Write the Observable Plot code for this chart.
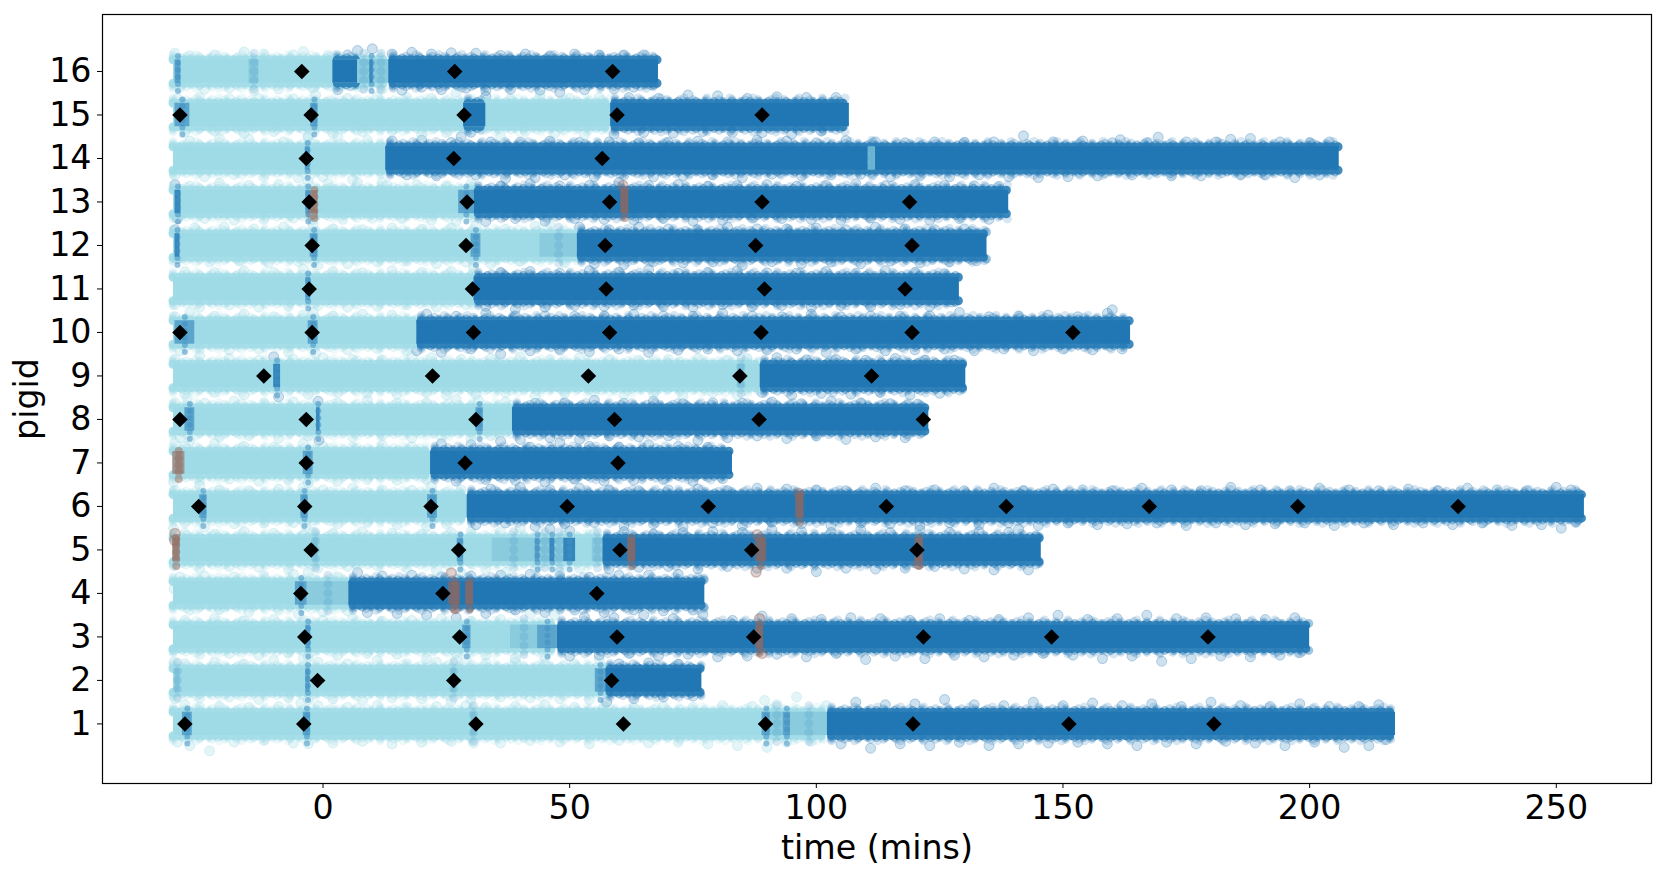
<!DOCTYPE html>
<html>
<head>
<meta charset="utf-8">
<script src="https://cdn.jsdelivr.net/npm/d3@7"></script>
<script src="https://cdn.jsdelivr.net/npm/@observablehq/plot@0.6"></script>
<style>
  body { margin: 0; background: white; }
</style>
</head>
<body>
<div id="chart"></div>
<script>
const pigids = [1,2,3,4,5,6,7,8,9,10,11,12,13,14,15,16]
const xTicks = [0,50,100,150,200,250]

// [pigid, start, end, kind]  L light, D dark, M mottled, S semi-dark, B brown
const segments = [
  [16,-30.3,13.3,"L"],[16,-30,-28.8,"S"],[16,-15,-13,"M"],[16,2,7,"D"],[16,7,9.5,"M"],[16,9.5,10.2,"D"],[16,10.2,13.3,"M"],[16,13.3,68,"D"],
  [15,-30.3,58.3,"L"],[15,-30,-27,"S"],[15,-2.5,-1,"S"],[15,28.5,33,"D"],[15,58.3,106.7,"D"],
  [14,-30.3,12.7,"L"],[14,-3.6,-2.6,"S"],[14,12.7,206,"D"],[14,110.5,112,"M"],
  [13,-30.3,30.6,"L"],[13,-30,-28.8,"D"],[13,-3.5,-2.5,"S"],[13,27.5,30.6,"S"],[13,30.6,139,"D"],
  [12,-30.3,51.5,"L"],[12,-30,-29,"D"],[12,-2.6,-1,"S"],[12,30,32,"S"],[12,44,51.5,"M"],[12,51.5,134.6,"D"],
  [11,-30.3,30.6,"L"],[11,-3.5,-2.5,"S"],[11,30.6,129,"D"],
  [10,-30.3,19,"L"],[10,-30,-26,"S"],[10,-3,-1,"S"],[10,19,163.7,"D"],
  [9,-30.3,88.6,"L"],[9,-10,-8.6,"D"],[9,84,85.5,"M"],[9,88.6,130.3,"D"],
  [8,-30.3,38.4,"L"],[8,-28,-26,"S"],[8,-1.3,-0.6,"D"],[8,31,32.5,"S"],[8,38.4,122.8,"D"],
  [7,-30.3,21.8,"L"],[7,-4,-2,"S"],[7,21.8,83,"D"],
  [6,-30.3,29.2,"L"],[6,-25,-23.5,"S"],[6,-4.5,-3,"S"],[6,21.2,23.2,"S"],[6,29.2,255.7,"D"],
  [5,-30.3,56.6,"L"],[5,-2,-1,"M"],[5,27.2,28.5,"S"],[5,34.3,43,"M"],[5,43,44,"S"],[5,44,46,"M"],[5,46,47,"D"],[5,47,48.8,"M"],[5,48.8,51.2,"D"],[5,54.6,56.7,"M"],[5,56.7,145.6,"D"],
  [4,-30.3,5.2,"L"],[4,-5.6,-3.2,"S"],[4,-3.2,5.2,"M"],[4,5.2,77.4,"D"],
  [3,-30.3,47.5,"L"],[3,-3.5,-2.5,"S"],[3,28.3,30,"S"],[3,38,43.5,"M"],[3,43.5,47.5,"S"],[3,47.5,200,"D"],
  [2,-30.3,57.3,"L"],[2,-30,-29,"M"],[2,-3.5,-2.6,"S"],[2,26,27,"M"],[2,55.2,57.3,"S"],[2,57.3,76.8,"D"],
  [1,-30.3,102.2,"L"],[1,-28.5,-26.5,"S"],[1,-4,-2.5,"S"],[1,30,31,"M"],[1,89,90.7,"S"],[1,90.7,93.3,"M"],[1,93.3,94.8,"S"],[1,94.8,102.2,"M"],[1,102.2,217.4,"D"]
]
const brownRuns = [
  [13,-2.5,-1],[13,60.3,62],[7,-30.5,-28],[6,95.8,97.5],[5,-30.5,-29],[5,61.7,63.4],[5,87.6,90],[5,120,121.7],[4,25.4,27.9],[4,28.9,30.5],[3,87.7,89.3]
]
const brownX = [-30, -30.1, 88, 87.8, 26, 26.8, 88.5, 89, 60.8, 96.5, 120.6, -2.2]
const brownY = [5.38, 5.22, 5.35, 4.49, 4.47, 3.65, 3.42, 2.62, 13.38, 6.3, 4.68, 12.72]

// diamonds, one list per pig
const marks16 = [-4.3,26.7,58.7]
const marks15 = [-29,-2.4,28.6,59.6,89]
const marks14 = [-3.4,26.5,56.6]
const marks13 = [-2.8,29.2,58.1,89,118.9]
const marks12 = [-2.2,29,57.2,87.7,119.4]
const marks11 = [-2.8,30.3,57.4,89.5,118]
const marks10 = [-29,-2.2,30.5,58.1,88.8,119.4,152]
const marks9 = [-12,22.2,53.8,84.5,111.2]
const marks8 = [-29,-3.4,31,59.1,88.4,121.7]
const marks7 = [-3.4,28.8,59.8]
const marks6 = [-25.2,-3.7,21.9,49.5,78.1,114.2,138.5,167.5,197.6,230.1]
const marks5 = [-2.4,27.5,60.2,86.9,120.4]
const marks4 = [-4.5,24.3,55.5]
const marks3 = [-3.7,27.7,59.6,87.3,121.7,147.7,179.4]
const marks2 = [-1.1,26.5,58.5]
const marks1 = [-28,-3.9,31,60.9,89.7,119.6,151.2,180.6]

// loose points round each band: x, offset from the pig's row
const stray16 = [[-30,.42],[-29,-.36],[-27,.36],[-24,-.41],[-22,.38],[-19,-.38],[-16,.45],[-14,-.44],[-12,.4],[-9,-.4],[-6,.38],[-4,.46],[-2,-.38],[1,.37],[3,-.42],[5,.38],[7,.48],[8,-.37],[10,.52],[12,-.4],[14,.4],[16,-.43],[18,.44],[20,-.36],[22,.4],[24,-.42],[26,.43],[29,-.38],[31,.42],[33,-.44],[36,.37],[38,-.41],[41,.4],[44,-.43],[46,.36],[48,-.48],[51,.4],[53,-.42],[56,.38],[59,-.4],[61,.38],[63,-.36],[65,.38],[66.5,-.3]]
const stray15 = [[-29.5,.38],[-28,-.4],[-25,.4],[-22,-.37],[-19,.37],[-16,-.42],[-13,.38],[-10,-.38],[-6,.37],[-3,-.48],[-1.5,.46],[2,-.42],[5,.38],[8,-.38],[11,.42],[14,-.37],[17,.4],[20,-.46],[22,.38],[25,-.4],[27,.52],[30,-.4],[33,.43],[36,-.5],[38,.37],[41,-.38],[44,.46],[47,-.42],[50,.38],[53,-.46],[56,.4],[59,-.44],[62,.4],[65,-.4],[68,.38],[71,-.42],[74,.46],[77,-.38],[80,.44],[83,-.4],[86,.38],[89,-.41],[92,.42],[95,-.44],[98,.4],[101,-.37],[104,.4]]
const stray14 = [[-30,-.38],[-27,.4],[-24,-.42],[-21,.46],[-18,-.37],[-15,.44],[-12,-.42],[-8,.38],[-5,-.45],[-3,.48],[0,-.42],[3,.5],[6,-.48],[9,.42],[12,-.55],[14,.4],[17,-.38],[20,.42],[23,-.4],[26,.37],[28,.5],[31,-.38],[34,.38],[37,-.46],[40,.38],[43,-.44],[46,.4],[49,-.38],[52,.37],[55,-.42],[58,.38],[61,-.38],[64,.36],[67,-.42],[70,.37],[73,-.4],[76,.4],[79,-.38],[82,.38],[85,-.44],[88,.42],[91,-.36],[94,.4],[97,-.4],[100,.36],[103,-.38],[106,.41],[109,-.36],[112,.38],[115,-.42],[118,.36],[121,-.4],[124,.38],[127,-.42],[130,.37],[133,-.38],[136,.38],[139,-.42],[142,.52],[145,-.44],[148,.38],[151,-.42],[154,.4],[157,-.4],[160,.36],[161.6,.43],[164,-.38],[167,.36],[169.3,.49],[172,-.4],[175,.38],[178,-.4],[181,.38],[184,.44],[186,-.38],[188,.46],[191,-.38],[194,.38],[197,-.44],[200,.36],[202,-.38],[204,.38]]
const stray13 = [[-30,.4],[-29.5,-.38],[-27,.36],[-24,-.38],[-21,.43],[-18,-.42],[-15,.38],[-12,-.4],[-9,.4],[-6,-.37],[-3,.48],[-2,-.4],[1,.42],[4,-.4],[7,.44],[10,-.37],[13,.38],[16,-.38],[19,.4],[22,-.42],[25,.37],[27,-.44],[30,.42],[33,-.45],[36,.36],[39,-.38],[42,.42],[45,-.44],[48,.37],[51,-.38],[54,.38],[57,-.4],[60,.45],[63,-.42],[66,.38],[69,-.38],[72,.4],[75,-.44],[78,.36],[81,-.42],[84,.38],[87,-.37],[90,.4],[93,-.38],[96,.36],[99,-.4],[102,.38],[105,-.42],[108,.42],[111,-.37],[114,.37],[117,-.4],[120,.4],[123,-.42],[126,.38],[129,-.38],[132,.37],[135,-.4],[137,.36]]
const stray12 = [[-30,.36],[-29.5,-.3],[-26,.4],[-23,-.38],[-20,.42],[-17,-.36],[-14,.38],[-11,-.4],[-8,.42],[-5,-.37],[-2,.48],[-1,-.45],[2,.38],[5,-.42],[8,.36],[11,-.38],[14,.4],[17,-.36],[20,.37],[23,-.42],[26,.4],[29,-.38],[31,.46],[34,-.42],[37,.37],[40,-.36],[43,.44],[46,.48],[49,-.4],[52,.42],[55,-.42],[58,.36],[61,-.44],[64,.42],[67,-.37],[70,.38],[73,-.4],[76,.36],[79,-.38],[82,.42],[85,-.46],[88,.38],[91,-.37],[94,.38],[97,-.42],[100,.4],[103,-.38],[106,.36],[109,-.42],[112,.42],[115,-.36],[118,.38],[121,-.4],[124,.36],[127,-.38],[130,.38],[132.5,-.35]]
const stray11 = [[-30,-.36],[-28,.4],[-25,-.42],[-22,.38],[-19,-.37],[-16,.41],[-13,-.42],[-10,.38],[-7,-.4],[-4,.46],[-1,-.38],[2,.4],[5,-.42],[8,.37],[11,-.4],[14,.42],[17,-.37],[20,.38],[23,-.42],[26,.4],[29,-.36],[30.5,.5],[33,-.4],[36,.38],[39,-.46],[42,.4],[45,-.42],[48,.36],[51,-.38],[54,.42],[57,-.4],[60,.38],[63,-.37],[66,.44],[69,-.4],[72,.36],[75,-.42],[78,.38],[81,-.36],[84,.42],[87,-.4],[90,.37],[93,-.38],[96,.36],[99,-.42],[102,.4],[105,-.38],[108,.36],[111,-.4],[114,.42],[117,-.36],[120,.38],[123,-.4],[126,.35],[127.5,-.3]]
const stray10 = [[-30,.36],[-29,-.42],[-27,.46],[-25,-.38],[-22,.37],[-19,-.4],[-16,.42],[-13,-.38],[-10,.36],[-7,-.44],[-4,.4],[-2,.47],[-1.5,-.48],[2,.38],[5,-.4],[8,.42],[11,-.37],[14,.4],[17,-.42],[19,-.42],[21,.42],[24,-.46],[27,.37],[30,-.38],[33,.44],[36,-.5],[39,.38],[42,-.42],[45,.38],[48,-.4],[51,.37],[54,-.44],[57,.38],[60,-.38],[63,.42],[66,-.46],[69,.38],[72,-.4],[75,.37],[78,-.38],[81,.44],[84,-.42],[87,.38],[90,-.4],[93,.36],[96,-.38],[99,.42],[102,-.46],[105,.36],[108,-.38],[111,.38],[114,-.42],[117,.37],[120,-.4],[123,.38],[126,-.38],[129,.46],[132,-.42],[135,.36],[138,-.38],[141,.38],[144,-.42],[147,.4],[150,-.38],[153,.36],[156,-.4],[159,.44],[160,.52],[162,-.38]]
const stray9 = [[-30,.38],[-28,-.42],[-25,.46],[-22,-.38],[-19,.4],[-16,-.44],[-13,.36],[-10,.44],[-9,-.48],[-6,.38],[-3,-.42],[0,.42],[3,-.38],[6,.38],[9,-.4],[12,.37],[15,-.42],[18,.46],[21,-.38],[22,.42],[25,-.44],[28,.38],[31,-.42],[34,.4],[37,-.38],[40,.44],[43,-.46],[46,.38],[49,-.4],[52,.42],[55,-.37],[58,.38],[61,-.44],[64,.36],[67,-.4],[70,.38],[73,-.46],[76,.4],[79,-.38],[82,.36],[84,-.44],[86,.4],[89,-.38],[92,.42],[95,-.44],[98,.37],[101,-.4],[104,.38],[107,-.42],[110,.36],[113,-.38],[116,.4],[119,-.44],[122,.36],[125,-.4],[128,.36]]
const stray8 = [[-30,.38],[-29,-.42],[-27.5,.5],[-27,-.48],[-24,.37],[-21,-.4],[-18,.42],[-15,-.37],[-12,.38],[-9,-.44],[-6,.4],[-3,-.38],[-1,.42],[-0.8,-.48],[3,.38],[6,-.4],[9,.44],[12,-.37],[15,.37],[18,-.42],[21,.38],[24,-.4],[27,.46],[30,-.44],[31.5,.44],[34,-.37],[37,.4],[40,-.46],[43,.37],[46,-.42],[49,.38],[52,-.46],[55,.44],[58,-.38],[61,.37],[64,-.4],[67,.42],[70,-.38],[73,.36],[76,-.48],[79,.38],[82,-.42],[85,.37],[88,-.38],[91,.4],[94,-.44],[97,.36],[100,-.38],[103,.42],[106,-.46],[109,.38],[112,-.4],[115,.36],[118,-.42],[120.5,.35]]
const stray7 = [[-30,.46],[-30.3,-.44],[-28,.38],[-25,-.4],[-22,.44],[-19,-.37],[-16,.38],[-13,-.42],[-10,.36],[-7,-.4],[-4,.44],[-3,-.46],[0,.38],[3,-.42],[6,.36],[9,-.38],[12,.42],[15,-.4],[18,.37],[21,-.38],[24,.44],[27,-.42],[30,.42],[33,-.38],[36,.5],[39,-.4],[42,.36],[45,-.44],[48,.46],[51,-.37],[54,.38],[57,-.42],[60,.36],[63,-.4],[66,.42],[69,-.38],[72,.38],[75,-.42],[78,.36],[81,-.36]]
const stray6 = [[-30,.36],[-28,-.38],[-25,.48],[-24,-.48],[-21,.38],[-18,-.4],[-15,.36],[-12,-.38],[-9,.4],[-6,-.37],[-4,.44],[-3.5,-.44],[0,.38],[3,-.4],[6,.42],[9,-.37],[12,.38],[15,-.42],[18,.37],[21,-.46],[22,.46],[25,-.4],[28,.38],[31,-.42],[34,.4],[37,-.38],[40,.44],[43,-.46],[46,.38],[49,-.4],[52,.42],[55,-.37],[58,.38],[61,-.44],[64,.36],[67,-.4],[70,.38],[73,-.46],[76,.4],[79,-.38],[82,.36],[85,-.44],[88,.42],[91,-.36],[94,.4],[97,-.4],[100,.38],[103,-.44],[106,.36],[109,-.38],[112,.42],[115,-.4],[118,.36],[121,-.44],[124,.38],[127,-.38],[130,.36],[133,-.42],[136,.42],[139,-.38],[142,.36],[145,-.44],[148,.4],[151,-.38],[154,.38],[157,-.42],[160,.36],[163,-.4],[166,.42],[169,-.38],[172,.38],[175,-.44],[178,.36],[181,-.38],[184,.44],[187,-.42],[190,.38],[193,-.4],[196,.36],[199,-.38],[202,.42],[205,-.44],[208,.38],[211,-.38],[214,.36],[217,-.42],[220,.4],[223,-.38],[226,.36],[229,-.42],[232,.42],[235,-.38],[238,.38],[241,-.44],[244,.36],[247,-.42],[250,.44],[251,-.5],[253,.38],[254,-.36]]
const stray5 = [[-30.3,.5],[-30,-.36],[-28,.38],[-25,-.42],[-22,.36],[-19,-.38],[-16,.42],[-13,-.4],[-10,.38],[-7,-.44],[-4,.36],[-2,.4],[-1,-.42],[2,.38],[5,-.38],[8,.42],[11,-.37],[14,.38],[17,-.42],[20,.36],[23,-.46],[26,.4],[28,-.52],[30,.42],[33,-.44],[36,.42],[37,-.52],[40,.5],[43,-.44],[46,.48],[48,-.52],[50,.44],[52,-.42],[55,.38],[58,-.44],[61,.42],[64,-.4],[67,.36],[70,-.38],[73,.4],[76,-.44],[79,.42],[82,-.38],[85,.4],[88,-.42],[91,.46],[94,-.42],[97,.42],[100,-.5],[103,.4],[106,-.42],[109,.46],[112,-.44],[115,.4],[118,-.42],[121,.46],[124,-.38],[127,.4],[130,-.44],[133,.42],[136,-.46],[139,.4],[141,.48],[143,-.46],[144.5,.3]]
const stray4 = [[-30.2,.1],[-29,.38],[-27,-.38],[-24,.4],[-21,-.37],[-18,.38],[-15,-.42],[-12,.4],[-9,-.38],[-6,.44],[-5,-.48],[-3,.48],[0,-.42],[3,.38],[5,-.4],[7,.48],[9,-.44],[12,.4],[15,-.46],[18,.42],[21,-.5],[24,.38],[27,-.56],[30,.4],[33,-.46],[36,.42],[39,-.38],[42,.44],[45,-.44],[48,.4],[51,-.38],[54,.37],[57,-.44],[60,.42],[63,-.38],[66,.42],[69,-.4],[72,.44],[75,-.38],[76.5,.3]]
const stray3 = [[-30.2,-.3],[-28,.38],[-25,-.4],[-22,.42],[-19,-.38],[-16,.37],[-13,-.42],[-10,.4],[-7,-.37],[-4,.38],[-3,-.46],[0,.38],[3,-.42],[6,.42],[9,-.38],[12,.36],[15,-.4],[18,.38],[21,-.5],[24,.42],[27,-.38],[29,-.5],[30,.36],[33,-.42],[36,.4],[39,-.5],[42,.52],[45,-.48],[47,.5],[50,-.44],[53,.46],[56,-.42],[59,.44],[62,-.38],[65,.5],[68,-.44],[71,.42],[74,-.4],[77,.52],[80,-.46],[83,.38],[86,-.44],[89,.48],[92,-.4],[95,.42],[98,-.46],[101,.4],[104,-.38],[107,.44],[110,-.52],[113,.42],[116,-.44],[119,.38],[122,-.5],[125,.42],[128,-.42],[131,.38],[134,-.46],[137,.4],[140,-.42],[143,.44],[146,-.38],[149,.5],[152,-.42],[155,.4],[158,-.5],[161,.42],[164,-.44],[167,.5],[170,-.56],[173,.42],[176,-.5],[179,.44],[182,-.44],[185,.42],[188,-.46],[191,.4],[194,-.42],[197,.44],[198,-.36]]
const stray2 = [[-30.2,.42],[-30,-.42],[-28,.38],[-25,-.4],[-22,.42],[-19,-.38],[-16,.37],[-13,-.44],[-10,.46],[-7,-.4],[-4,.5],[-3,-.44],[-1,.42],[2,-.42],[5,.38],[8,-.46],[11,.46],[14,-.4],[17,.38],[20,-.42],[23,.42],[26,-.48],[27,.46],[30,-.44],[33,.4],[36,-.38],[39,.42],[42,-.4],[45,.37],[48,-.42],[51,.38],[54,-.44],[56,.48],[57.5,-.5],[60,.38],[63,-.42],[66,.4],[69,-.38],[72,.37],[75,-.36]]
const stray1 = [[-30,.3],[-29.5,-.42],[-28,.44],[-27,-.5],[-25,.38],[-23,-.62],[-21,.4],[-18,-.42],[-15,.38],[-12,-.38],[-9,.4],[-6,-.44],[-4.5,.48],[-3,-.46],[-1,.42],[2,-.44],[5,.38],[8,-.4],[11,.42],[14,-.46],[17,.38],[20,-.42],[23,.4],[26,-.4],[29,.42],[30.5,-.44],[33,.38],[36,-.44],[39,.4],[42,-.38],[45,.44],[48,-.42],[51,.38],[54,-.46],[57,.4],[60,-.38],[63,.37],[66,-.44],[69,.4],[72,-.42],[75,.38],[78,-.46],[81,.42],[84,-.5],[87,.4],[89.5,.54],[90,-.54],[92,.44],[94,-.42],[96,.62],[99,-.4],[102,.42],[105,-.46],[108,.5],[111,-.56],[114,.44],[117,-.46],[120,.46],[123,-.5],[126,.56],[129,-.42],[132,.44],[135,-.5],[138,.42],[141,-.46],[144,.5],[147,-.44],[150,.42],[153,-.42],[156,.48],[159,-.46],[162,.42],[165,-.5],[168,.46],[171,-.42],[174,.4],[177,-.46],[180,.5],[183,-.4],[186,.42],[189,-.44],[192,.4],[195,-.5],[198,.46],[201,-.42],[204,.4],[207,-.54],[210,.4],[212,-.5],[214,.44],[215.5,-.36]]

const colors = {L: "#9edbe6", D: "#2077b4", M: "#86c8dc", S: "#3f8fc2", B: "#96685c"}

const rows = segments.map(([pig, start, end, kind]) => ({pig, start, end, kind}))
const straysByPig = {16:stray16,15:stray15,14:stray14,13:stray13,12:stray12,11:stray11,10:stray10,9:stray9,8:stray8,7:stray7,6:stray6,5:stray5,4:stray4,3:stray3,2:stray2,1:stray1}
const marksByPig = {16:marks16,15:marks15,14:marks14,13:marks13,12:marks12,11:marks11,10:marks10,9:marks9,8:marks8,7:marks7,6:marks6,5:marks5,4:marks4,3:marks3,2:marks2,1:marks1}

const kindAt = (pig, x) => {
  const hit = rows.filter(d => d.pig == pig && d.kind != "M" && d.kind != "S" && x >= d.start && x <= d.end)
  return hit.length ? hit[hit.length - 1].kind : "L"
}
const strays = pigids.flatMap(pig => straysByPig[pig].map(([x, off]) => ({x, y: pig + off, kind: kindAt(pig, x)})))
const diamonds = pigids.flatMap(pig => marksByPig[pig].map(x => ({x, y: pig})))

const isThin = d => d.kind == "D" && d.end - d.start < 3
// light first so the dark runs sit on top of it
const base = d3.sort(rows.filter(d => (d.kind == "L" || d.kind == "D") && !isThin(d)), d => d.kind == "D" ? 1 : 0)
const over = rows.filter(d => d.kind == "M" || d.kind == "S" || isThin(d))
const brown = brownRuns.map(([pig, start, end]) => ({pig, start, end}))
const brownDots = brownX.map((x, i) => ({x, y: brownY[i]}))

// a round-capped dashed rule reads as a row of overlapping scatter points
const fringe = (off, dash, opacity) => [1, -1].map(side => Plot.ruleY(base, {
  x1: d => d.kind == "D" ? d.start + 1 : d.start, x2: "end", y: d => d.pig + side * off,
  stroke: d => colors[d.kind], strokeWidth: 9, strokeLinecap: "round",
  strokeDasharray: dash, strokeOpacity: opacity
}))
const blobs = (data, reach, width, dash, color, opacity) => Plot.ruleX(data, {
  x: d => (d.start + d.end) / 2, y1: d => d.pig - reach, y2: d => d.pig + reach,
  stroke: color, strokeWidth: width, strokeLinecap: "round",
  strokeDasharray: dash, strokeOpacity: opacity
})

const chart = Plot.plot({
  width: 1664,
  height: 874,
  marginLeft: 102,
  marginRight: 13,
  marginTop: 14,
  marginBottom: 91,
  style: {fontFamily: "DejaVu Sans", background: "white", color: "#000"},
  x: {domain: [-44.7, 269.3]},
  y: {domain: [-0.37, 17.31]},
  marks: [
    Plot.dot(strays, {x: "x", y: "y", r: 5, fill: d => colors[d.kind], stroke: d => colors[d.kind], fillOpacity: d => d.kind == "D" ? 0.22 : 0.28, strokeOpacity: d => d.kind == "D" ? 0.3 : 0.32, strokeWidth: 1}),
    fringe(0.39, "0 23", 0.18),
    fringe(0.35, "0 13", 0.24),
    fringe(0.31, "0 9", 0.42),
    fringe(0.27, "0 6", 0.85),
    Plot.rect(base, {x1: "start", x2: "end", y1: d => d.pig - 0.27, y2: d => d.pig + 0.27, fill: d => colors[d.kind]}),
    Plot.rect(over, {x1: "start", x2: "end", y1: d => d.pig - 0.27, y2: d => d.pig + 0.27, fill: d => isThin(d) ? colors.D : colors[d.kind], fillOpacity: d => d.kind == "S" ? 0.7 : 0.85}),
    blobs(over.filter(d => d.kind != "M"), 0.46, 6, "0 7", colors.S, 0.55),
    blobs(over.filter(d => d.kind == "M"), 0.42, 9, "0 9", colors.S, 0.2),
    Plot.rect(brown, {x1: "start", x2: "end", y1: d => d.pig - 0.26, y2: d => d.pig + 0.26, fill: colors.B, fillOpacity: 0.6}),
    blobs(brown, 0.38, 8, "0 7", colors.B, 0.5),
    Plot.dot(brownDots, {x: "x", y: "y", r: 5, fill: colors.B, stroke: colors.B, fillOpacity: 0.3, strokeOpacity: 0.35}),
    Plot.dot(diamonds, {x: "x", y: "y", symbol: "diamond2", r: 7, fill: "black"}),
    Plot.frame({stroke: "black", strokeWidth: 1.2}),
    Plot.axisX({ticks: xTicks, tickSize: 5, tickPadding: 7, fontSize: 33.3, label: "time (mins)", labelAnchor: "center", labelArrow: "none", labelOffset: 75, tickFormat: d => String(d)}),
    Plot.axisY({ticks: pigids, tickSize: 5, tickPadding: 6, fontSize: 33.3, label: "pigid", labelAnchor: "center", labelArrow: "none", labelOffset: 88, tickFormat: d => String(d)})
  ]
})
d3.select("#chart").append(() => chart)
</script>
</body>
</html>
